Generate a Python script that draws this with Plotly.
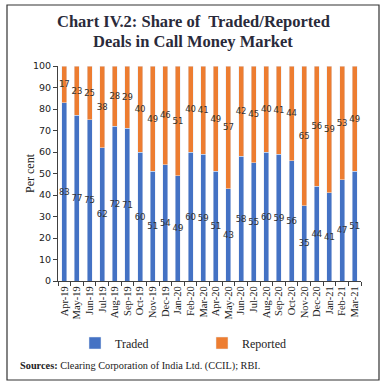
import plotly.graph_objects as go

months = ["Apr-19","May-19","Jun-19","Jul-19","Aug-19","Sep-19","Oct-19","Nov-19","Dec-19","Jan-20",
          "Feb-20","Mar-20","Apr-20","May-20","Jun-20","Jul-20","Aug-20","Sep-20","Oct-20","Nov-20",
          "Dec-20","Jan-21","Feb-21","Mar-21"]
traded = [83,77,75,62,72,71,60,51,54,49,60,59,51,43,58,55,60,59,56,35,44,41,47,51]
reported = [17,23,25,38,28,29,40,49,46,51,40,41,49,57,42,45,40,41,44,65,56,59,53,49]

W, H = 386, 387
ML, MR, MT, MB = 58, 25, 66, 106
pw = W - ML - MR
ph = H - MT - MB

def px(x):
    return (x - ML) / pw

def py(y):
    return (H - MB - y) / ph

lab_font = dict(family="DejaVu Sans", size=8.5, color="#333333")
fig = go.Figure()
fig.add_trace(go.Bar(x=months, y=traded, name="Traded", marker_color="#4472C4",
                     text=traded, textposition="inside", insidetextanchor="middle",
                     textangle=0, textfont=lab_font, cliponaxis=False))
fig.add_trace(go.Bar(x=months, y=reported, name="Reported", marker_color="#ED7D31",
                     text=reported, textposition="inside", insidetextanchor="middle",
                     textangle=0, textfont=lab_font, cliponaxis=False))

title_font = dict(family="Liberation Serif", size=16.5, color="#2a2a3a")
fig.update_layout(
    barmode="stack",
    bargap=0.6,
    width=W, height=H,
    margin=dict(l=ML, r=MR, t=MT, b=MB, autoexpand=False),
    paper_bgcolor="white", plot_bgcolor="white",
    uniformtext=dict(minsize=7, mode="show"),
    legend=dict(orientation="h", x=px(75), y=py(343), xanchor="left", yanchor="middle",
                font=dict(family="Liberation Serif", size=12, color="#222222"),
                entrywidth=82, entrywidthmode="pixels", itemwidth=30, traceorder="normal"),
    showlegend=True,
)
fig.add_annotation(xref="paper", yref="paper", x=px(193), y=py(22), xanchor="center", yanchor="middle",
                   text="<b>Chart IV.2: Share of  Traded/Reported</b>", showarrow=False, font=title_font)
fig.add_annotation(xref="paper", yref="paper", x=px(193), y=py(41), xanchor="center", yanchor="middle",
                   text="<b>Deals in Call Money Market</b>", showarrow=False, font=title_font)
fig.add_annotation(xref="paper", yref="paper", x=px(30), y=py(173), xanchor="center", yanchor="middle",
                   text="Per cent", textangle=-90, showarrow=False,
                   font=dict(family="Liberation Serif", size=12, color="#222222"))

fig.update_xaxes(showline=True, linecolor="#404040", linewidth=1, automargin=False,
                 ticks="outside", tickson="boundaries", ticklen=4, tickcolor="#404040",
                 tickmode="linear", dtick=1,
                 tickangle=-90, tickfont=dict(family="Liberation Serif", size=10.5, color="#222222"),
                 showgrid=False, range=[-0.5, 23.5])
fig.update_yaxes(showline=True, linecolor="#404040", linewidth=1, automargin=False,
                 ticks="outside", ticklen=4, tickcolor="#404040",
                 range=[0, 100], dtick=10, showgrid=False, zeroline=False,
                 tickfont=dict(family="DejaVu Sans", size=9.5, color="#222222"))

fig.add_shape(type="rect", xref="paper", yref="paper",
              x0=px(7), x1=px(379), y0=py(380), y1=py(5),
              line=dict(color="#333333", width=1.2), fillcolor="rgba(0,0,0,0)", layer="above")

fig.add_annotation(xref="paper", yref="paper", x=px(18), y=py(366), xanchor="left", yanchor="middle",
                   text="<b>Sources:</b> Clearing Corporation of India Ltd. (CCIL); RBI.",
                   showarrow=False, font=dict(family="Liberation Serif", size=10.3, color="#222222"))

fig.write_html("out.html", config={"displayModeBar": False},
               post_script="document.body.style.margin='0';document.body.style.overflow='hidden';")
